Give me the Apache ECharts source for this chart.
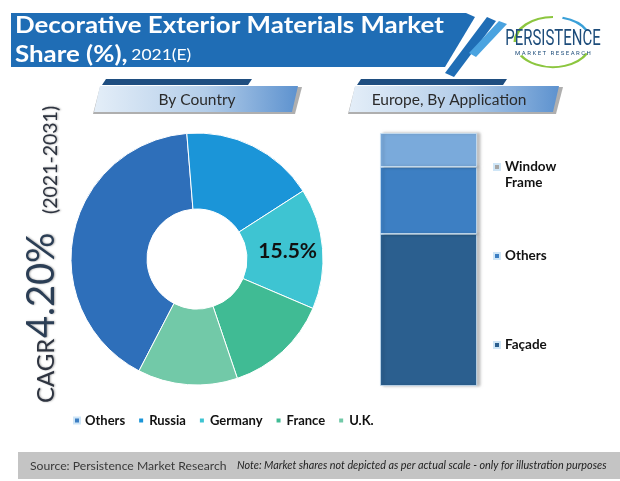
<!DOCTYPE html>
<html><head><meta charset="utf-8">
<script src="https://cdn.jsdelivr.net/npm/echarts@6/dist/echarts.min.js"></script>
<style>html,body{margin:0;padding:0;background:#fff}#c{width:620px;height:481px}</style>
</head><body><div id="c"></div>
<script>
// Data
var countries = ['Others', 'Russia', 'Germany', 'France', 'U.K.'];
var countryShare = [41.1, 17.2, 15.5, 13.4, 12.8];
var countryColors = ['#2e6fba', '#1b95d8', '#3ec4d2', '#40bb94', '#72c9a8'];
var labelledCountry = 'Germany';

var applications = ['Façade', 'Others', 'Window Frame'];
var applicationShare = [60.1, 26.5, 13.4];
var applicationColors = ['#2b5f8f', '#3d7fc3', '#7aaadb'];
var applicationLegendColors = ['#2b5f8f', '#3d7fc3', '#a6a6a6'];
var region = ['Europe'];

var chart = echarts.init(document.getElementById('c'), null, {renderer: 'canvas'});
var FONT = 'Lato';

var pieData = countries.map(function (n, i) {
  return {
    name: n, value: countryShare[i],
    itemStyle: {color: countryColors[i]},
    label: {show: n === labelledCountry}
  };
});

var barSeries = applications.map(function (n, i) {
  return {
    type: 'bar', name: n, stack: 'app', barWidth: '100%',
    data: [applicationShare[i]],
    itemStyle: {color: applicationColors[i], borderColor: '#cfe6f7', borderWidth: 0.8,
      shadowColor: 'rgba(0,0,0,0.25)', shadowBlur: 3, shadowOffsetX: 3},
    emphasis: {disabled: true}
  };
});

var legendTops = [332, 243, 138];
var barLegends = applications.map(function (n, i) {
  return {
    data: [{name: n, itemStyle: {color: applicationLegendColors[i]}}],
    left: 488, top: legendTops[i], orient: 'vertical',
    itemWidth: 6, itemHeight: 6, icon: 'rect',
    formatter: function (name) { return name === 'Window Frame' ? '\nWindow\nFrame' : name; },
    textStyle: {fontFamily: FONT, fontWeight: 'bold', fontSize: 13.5, color: '#111', lineHeight: 16},
    selectedMode: false
  };
});

function banner(x, y, w, dark, txt, tx) {
  return [
    {type: 'polygon', shape: {points: [[x + 12, y - 7], [x + dark, y - 7], [x + dark - 4, y - 1], [x + 8, y - 1]]},
      style: {fill: '#1f4e80'}},
    {type: 'polygon', shape: {points: [[x + 6, y + 1], [x + w + 4, y + 1], [x + w - 3, y + 28], [x - 1, y + 28]]},
      style: {fill: 'rgba(110,110,110,0.55)'}},
    {type: 'polygon', shape: {points: [[x + 6, y], [x + w, y], [x + w - 6, y + 26], [x, y + 26]]},
      style: {fill: new echarts.graphic.LinearGradient(0, 0, 1, 0, [
        {offset: 0, color: '#e4eef8'}, {offset: 0.55, color: '#b3cde9'}, {offset: 1, color: '#5d92cf'}])}},
    {type: 'text', x: tx, y: y + 14, style: {text: txt, fontFamily: FONT, fontSize: 15.5, fill: '#2b2b2b',
      align: 'center', verticalAlign: 'middle'}}
  ];
}

var shadow = {textShadowColor: 'rgba(0,0,0,0.35)', textShadowBlur: 2, textShadowOffsetX: 1};

var graphics = [
  // title banner
  {type: 'polygon', shape: {points: [[11, 13], [466, 13], [475, 17], [445, 67], [11, 67]]}, style: {fill: '#1f6db5'}},
  {type: 'polygon', shape: {points: [[487, 17], [496, 21], [454, 77], [445, 73]]}, style: {fill: '#1f6db5'}},
  {type: 'polygon', shape: {points: [[499, 21], [507, 24], [476, 57], [469, 53]]}, style: {fill: '#4aa3e0'}},
  {type: 'text', x: 15, y: 26, scaleX: 1.125, style: {text: 'Decorative Exterior Materials Market', fontFamily: FONT, fontWeight: 'bold',
    fontSize: 23, fill: '#fff', verticalAlign: 'middle'}},
  {type: 'text', x: 15, y: 55, scaleX: 1.125, style: {text: '{b|Share (%),} {r|2021(E)}', fill: '#fff', verticalAlign: 'middle',
    rich: {b: {fontFamily: FONT, fontWeight: 'bold', fontSize: 23, fill: '#fff'},
           r: {fontFamily: FONT, fontSize: 15.5, fill: '#fff'}}}},
  // logo
  {type: 'arc', x: 553, y: 42, scaleY: 0.66, shape: {cx: 0, cy: 0, r: 38, startAngle: Math.PI * 1.0, endAngle: Math.PI * 1.5},
    style: {stroke: '#8cc63f', lineWidth: 3, fill: null}},
  {type: 'arc', x: 553, y: 42, scaleY: 0.66, shape: {cx: 0, cy: 0, r: 38, startAngle: Math.PI * 1.58, endAngle: Math.PI * 1.85},
    style: {stroke: '#3aa0d8', lineWidth: 3, fill: null}},
  {type: 'arc', x: 553, y: 42, scaleY: 0.66, shape: {cx: 0, cy: 0, r: 38, startAngle: Math.PI * 0.15, endAngle: Math.PI * 0.82},
    style: {stroke: '#8cc63f', lineWidth: 3, fill: null}},
  {type: 'text', x: 553, y: 39, scaleX: 0.68, style: {text: 'PERSISTENCE', fontFamily: 'Roboto',
    fontSize: 22, fill: '#1d4c7a', align: 'center', verticalAlign: 'middle'}},
  {type: 'text', x: 553, y: 53, style: {text: 'M A R K E T   R E S E A R C H', fontFamily: 'Roboto', fontSize: 6, fill: '#1d4c7a',
    align: 'center', verticalAlign: 'middle'}},
  // CAGR vertical text
  {type: 'text', x: 58, y: 403, rotation: Math.PI / 2, style: Object.assign({text: 'CAGR', fontFamily: FONT, fontSize: 24,
    fill: '#2e3440', align: 'left', verticalAlign: 'bottom'}, shadow)},
  {type: 'text', x: 61, y: 338, rotation: Math.PI / 2, style: Object.assign({text: '4.20%', fontFamily: FONT, fontSize: 38,
    fill: '#2b3e55', align: 'left', verticalAlign: 'bottom'}, shadow)},
  {type: 'text', x: 61, y: 214, rotation: Math.PI / 2, style: Object.assign({text: '(2021-2031)', fontFamily: FONT, fontSize: 19.5,
    fill: '#2e3440', align: 'left', verticalAlign: 'bottom'}, shadow)},
  // footer
  {type: 'rect', shape: {x: 18, y: 452, width: 602, height: 27}, style: {fill: '#c4c4c4'}},
  {type: 'text', x: 30, y: 466, style: {text: 'Source: Persistence Market Research', fontFamily: FONT, fontSize: 12.2,
    fill: '#3a3a3a', verticalAlign: 'middle'}},
  {type: 'text', x: 237, y: 466, style: {text: 'Note: Market shares not depicted as per actual scale - only for illustration purposes',
    fontFamily: FONT, fontStyle: 'italic', fontSize: 10.8, fill: '#222', verticalAlign: 'middle'}}
].concat(banner(94, 86, 204, 158, 'By Country', 197)).concat(banner(349, 86, 210, 158, 'Europe, By Application', 449));

chart.setOption({
  animation: false,
  graphic: graphics,
  legend: [{
    data: countries, left: 68, top: 409, orient: 'horizontal',
    itemWidth: 6, itemHeight: 6, icon: 'rect', itemGap: 12, selectedMode: false,
    textStyle: {fontFamily: FONT, fontWeight: 'bold', fontSize: 13, color: '#111'}
  }].concat(barLegends),
  grid: {left: 380, top: 133, width: 97, height: 253},
  xAxis: {type: 'category', data: region, show: false},
  yAxis: {type: 'value', min: 0, max: 100, show: false},
  series: [{
    type: 'pie', center: [197, 259], radius: [50, 126],
    startAngle: 242.6, clockwise: true, avoidLabelOverlap: false,
    data: pieData,
    itemStyle: {borderColor: '#ffffff', borderWidth: 1},
    label: {position: 'inside', formatter: '{c}%', fontFamily: FONT, fontWeight: 'bold', fontSize: 21, color: '#111'},
    labelLine: {show: false},
    emphasis: {disabled: true}
  }].concat(barSeries)
});
</script></body></html>
